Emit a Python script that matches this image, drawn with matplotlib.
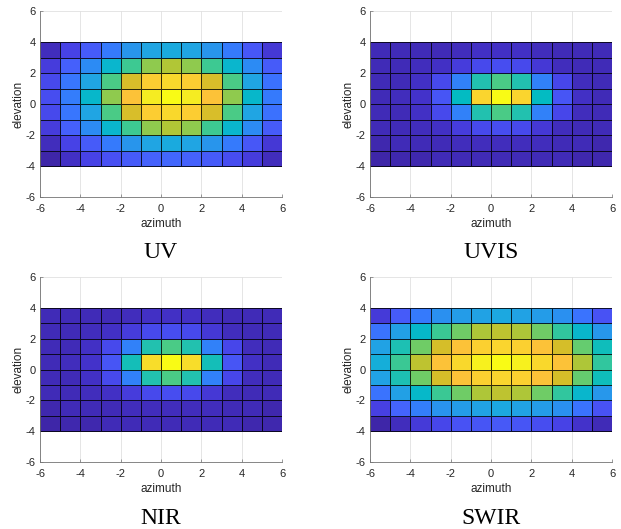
import numpy as np
import matplotlib
matplotlib.use("Agg")
import matplotlib.pyplot as plt
from matplotlib.colors import LinearSegmentedColormap

plt.rcParams["axes.unicode_minus"] = False

# parula (MATLAB) approximation, sampled
parula_pts = [
    (0.2422, 0.1504, 0.6603), (0.2647, 0.1978, 0.7952), (0.2783, 0.2559, 0.8991),
    (0.2810, 0.3228, 0.9579), (0.2699, 0.3892, 0.9906), (0.2206, 0.4603, 0.9973),
    (0.1786, 0.5289, 0.9682), (0.1540, 0.5902, 0.9218), (0.1248, 0.6459, 0.8883),
    (0.0689, 0.6948, 0.8394), (0.0067, 0.7312, 0.7660), (0.1408, 0.7584, 0.6842),
    (0.2161, 0.7843, 0.5923), (0.3406, 0.8008, 0.4789), (0.5044, 0.7993, 0.3480),
    (0.6720, 0.7793, 0.2227), (0.8203, 0.7498, 0.1535), (0.9393, 0.7288, 0.2100),
    (0.9970, 0.7659, 0.2199), (0.9786, 0.8386, 0.1766), (0.9597, 0.9135, 0.1423),
    (0.9769, 0.9839, 0.0805),
]
parula = LinearSegmentedColormap.from_list("parula", parula_pts)

azimuth_edges = np.arange(-6, 7)
elevation_edges = np.arange(-4, 5)

# rows listed from top (elevation 3..4) to bottom (-4..-3), columns azimuth -6..5
uv = [
    [0.03, 0.10, 0.17, 0.25, 0.33, 0.38, 0.40, 0.38, 0.33, 0.25, 0.16, 0.07],
    [0.08, 0.18, 0.30, 0.45, 0.58, 0.68, 0.72, 0.68, 0.58, 0.45, 0.30, 0.17],
    [0.12, 0.24, 0.38, 0.60, 0.77, 0.88, 0.91, 0.88, 0.77, 0.60, 0.38, 0.23],
    [0.13, 0.26, 0.46, 0.68, 0.85, 0.96, 1.00, 0.96, 0.85, 0.68, 0.46, 0.25],
    [0.12, 0.24, 0.38, 0.60, 0.77, 0.88, 0.91, 0.88, 0.77, 0.60, 0.38, 0.23],
    [0.08, 0.18, 0.30, 0.45, 0.58, 0.68, 0.72, 0.68, 0.58, 0.45, 0.30, 0.17],
    [0.03, 0.10, 0.17, 0.25, 0.33, 0.38, 0.40, 0.38, 0.33, 0.25, 0.16, 0.07],
    [0.00, 0.04, 0.10, 0.14, 0.17, 0.19, 0.20, 0.19, 0.17, 0.13, 0.08, 0.03],
]
uvis = [
    [0.02, 0.02, 0.02, 0.02, 0.03, 0.04, 0.04, 0.04, 0.03, 0.02, 0.02, 0.02],
    [0.02, 0.02, 0.03, 0.04, 0.08, 0.12, 0.13, 0.12, 0.07, 0.03, 0.02, 0.02],
    [0.02, 0.02, 0.04, 0.12, 0.27, 0.52, 0.60, 0.52, 0.27, 0.11, 0.03, 0.02],
    [0.02, 0.03, 0.05, 0.15, 0.48, 0.90, 1.00, 0.90, 0.48, 0.15, 0.04, 0.02],
    [0.02, 0.02, 0.04, 0.12, 0.27, 0.52, 0.60, 0.52, 0.27, 0.11, 0.03, 0.02],
    [0.02, 0.02, 0.03, 0.04, 0.08, 0.12, 0.13, 0.12, 0.07, 0.03, 0.02, 0.02],
    [0.01, 0.02, 0.02, 0.02, 0.03, 0.03, 0.03, 0.03, 0.03, 0.02, 0.02, 0.01],
    [0.00, 0.01, 0.01, 0.02, 0.02, 0.02, 0.02, 0.02, 0.02, 0.02, 0.01, 0.01],
]
nir = [
    [0.02, 0.02, 0.02, 0.02, 0.03, 0.04, 0.04, 0.04, 0.03, 0.02, 0.02, 0.02],
    [0.02, 0.02, 0.03, 0.04, 0.08, 0.12, 0.13, 0.12, 0.07, 0.03, 0.02, 0.02],
    [0.02, 0.02, 0.04, 0.12, 0.27, 0.52, 0.60, 0.52, 0.27, 0.11, 0.03, 0.02],
    [0.02, 0.03, 0.05, 0.15, 0.50, 0.92, 1.00, 0.92, 0.50, 0.15, 0.04, 0.02],
    [0.02, 0.02, 0.04, 0.12, 0.27, 0.52, 0.60, 0.52, 0.27, 0.11, 0.03, 0.02],
    [0.02, 0.02, 0.03, 0.04, 0.08, 0.12, 0.13, 0.12, 0.07, 0.03, 0.02, 0.02],
    [0.01, 0.02, 0.02, 0.02, 0.03, 0.03, 0.03, 0.03, 0.03, 0.02, 0.02, 0.01],
    [0.00, 0.01, 0.01, 0.02, 0.02, 0.02, 0.02, 0.02, 0.02, 0.02, 0.01, 0.01],
]
swir = [
    [0.08, 0.18, 0.26, 0.32, 0.36, 0.38, 0.40, 0.38, 0.36, 0.32, 0.24, 0.15],
    [0.24, 0.37, 0.47, 0.58, 0.65, 0.72, 0.74, 0.72, 0.65, 0.56, 0.46, 0.34],
    [0.38, 0.52, 0.65, 0.77, 0.85, 0.89, 0.90, 0.89, 0.85, 0.77, 0.64, 0.50],
    [0.42, 0.58, 0.74, 0.85, 0.91, 0.97, 1.00, 0.97, 0.91, 0.85, 0.72, 0.56],
    [0.38, 0.52, 0.65, 0.77, 0.85, 0.89, 0.90, 0.89, 0.85, 0.77, 0.64, 0.50],
    [0.24, 0.37, 0.47, 0.58, 0.65, 0.72, 0.74, 0.72, 0.65, 0.56, 0.46, 0.34],
    [0.10, 0.20, 0.27, 0.33, 0.36, 0.38, 0.40, 0.38, 0.36, 0.32, 0.24, 0.15],
    [0.01, 0.04, 0.08, 0.12, 0.15, 0.16, 0.17, 0.16, 0.14, 0.11, 0.06, 0.03],
]

bands = ["UV", "UVIS", "NIR", "SWIR"]
panels = [uv, uvis, nir, swir]

W, H = 621, 529
fig = plt.figure(figsize=(W / 100, H / 100), dpi=100)

# axes boxes in pixels: left, top, right, bottom
boxes = [(40, 11, 282, 197), (370, 11, 612, 197),
         (40, 277, 282, 462), (370, 277, 612, 462)]
gray = (0.15, 0.15, 0.15)

for name, data, (l, t, r, b) in zip(bands, panels, boxes):
    ax = fig.add_axes([l / W, 1 - b / H, (r - l) / W, (b - t) / H])
    c = np.array(data)[::-1]
    ax.pcolormesh(azimuth_edges, elevation_edges, c, cmap=parula,
                  vmin=c.min(), vmax=c.max(), edgecolors=(0, 0, 0, 0.8),
                  linewidth=0.6)
    ax.set_xlim(-6, 6)
    ax.set_ylim(-6, 6)
    ax.set_xticks(np.arange(-6, 7, 2))
    ax.set_yticks(np.arange(-6, 7, 2))
    ax.grid(True, color=(0.88, 0.88, 0.88), linewidth=0.6)
    ax.set_axisbelow(True)
    for s in ("top", "right"):
        ax.spines[s].set_visible(False)
    for s in ("left", "bottom"):
        ax.spines[s].set_color((0.45, 0.45, 0.45))
        ax.spines[s].set_linewidth(0.6)
    ax.tick_params(direction="in", length=2.5, width=0.5, color=(0.45, 0.45, 0.45),
                   labelsize=8, labelcolor=gray, pad=3)
    ax.tick_params(axis="x", pad=5)
    for lab in ax.get_xticklabels() + ax.get_yticklabels():
        lab.set_family("Liberation Sans")
    ax.set_xlabel("azimuth", fontsize=8.5, color=gray, family="Liberation Sans",
                  labelpad=3)
    ax.set_ylabel("elevation", fontsize=8.5, color=gray, family="Liberation Sans",
                  labelpad=1)
    fig.text((l + r) / 2 / W, 1 - (b + 56) / H, name, ha="center", va="center",
             fontsize=17, family="Liberation Serif")

fig.savefig("out.png", dpi=100)
